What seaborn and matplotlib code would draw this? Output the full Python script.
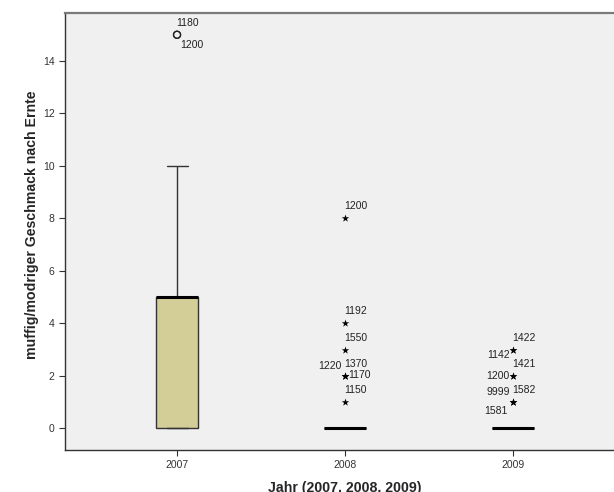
import numpy as np
import pandas as pd
import matplotlib
matplotlib.use("Agg")
import matplotlib.pyplot as plt
import seaborn as sns

# Jahre / Kategorien
years = ["2007", "2008", "2009"]

# Werte ohne Ausreisser (geschaetzt aus dem Boxplot)
body_2007 = [0] * 6 + [5] * 12 + [10]
body_2008 = [0] * 40
body_2009 = [0] * 40

# Ausreisser mit Fallnummern
out_year = ["2007", "2007", "2008", "2008", "2008", "2008", "2008", "2008", "2008",
            "2009", "2009", "2009", "2009", "2009", "2009", "2009"]
out_value = [15, 15, 8, 4, 3, 2, 2, 2, 1, 3, 3, 2, 2, 1, 1, 1]
out_case = ["1180", "1200", "1200", "1192", "1550", "1220", "1370", "1170", "1150",
            "1422", "1142", "1421", "1200", "1582", "9999", "1581"]
# wo das Label am Punkt steht
out_slot = ["ur", "dr", "ur", "ur", "ur", "ul", "ur", "r", "ur",
            "ur", "l_lo", "ur", "l", "ur", "ul", "dl"]

slot_off = {  # (dx px, dy px, ha)
    "ur": (-1, 12, "left"),
    "dr": (3, -10, "left"),
    "r": (3, 1, "left"),
    "l": (-4, 0, "right"),
    "ul": (-3, 10, "right"),
    "l_lo": (-3, -5, "right"),
    "dl": (-5, -9, "right"),
}

ytick_vals = [0, 2, 4, 6, 8, 10, 12, 14]

bodies = {"2007": body_2007, "2008": body_2008, "2009": body_2009}
rows = []
for y in years:
    for v in bodies[y]:
        rows.append((y, v))
for y, v in zip(out_year, out_value):
    rows.append((y, v))
df = pd.DataFrame(rows, columns=["Jahr", "wert"])

sns.set_style("white")
plt.rcParams["font.family"] = ["Liberation Sans", "DejaVu Sans"]

fig = plt.figure(figsize=(6.14, 4.92), dpi=100)
ax = fig.add_axes([65 / 614, 1 - 450 / 492, 560 / 614, 437 / 492])
ax.set_facecolor("#f0f0f0")

sns.boxplot(data=df, x="Jahr", y="wert", order=years, ax=ax, showfliers=False,
            width=0.25, color="#d3ce97", saturation=1, linecolor="#333333",
            linewidth=1.0, medianprops=dict(color="black", linewidth=2.2))

# Ausreisser: Kreis (>1.5 IQR) bzw. Stern (>3 IQR) wie in SPSS
for y, v in zip(out_year, out_value):
    q1, q3 = np.percentile(bodies[y] + [vv for yy, vv in zip(out_year, out_value) if yy == y], [25, 75])
    iqr = q3 - q1
    xp = years.index(y)
    if v > q3 + 3 * iqr:
        ax.scatter([xp], [v], marker="*", s=32, color="black", linewidths=0, zorder=5)
    else:
        ax.scatter([xp], [v], marker="o", s=26, facecolors="none", edgecolors="#222222",
                   linewidths=0.9, zorder=5)

for y, v, c, sl in zip(out_year, out_value, out_case, out_slot):
    dx, dy, ha = slot_off[sl]
    ax.annotate(c, xy=(years.index(y), v), xytext=(dx, dy), textcoords="offset pixels",
                ha=ha, va="center", fontsize=7.5, color="#222222")

ax.set_ylim(-0.83, 15.83)
ax.set_xlim(-0.667, 2.667)
ax.set_yticks(ytick_vals)
ax.tick_params(axis="both", direction="out", length=4, width=0.8, color="#333333",
               labelsize=7.5, labelcolor="#333333", left=True, bottom=True)

for s in ["left", "bottom"]:
    ax.spines[s].set_color("#333333")
    ax.spines[s].set_linewidth(1.0)
ax.spines["top"].set_color("#7a7a7a")
ax.spines["top"].set_linewidth(1.6)
ax.spines["right"].set_visible(False)

ax.set_ylabel("muffig/modriger Geschmack nach Ernte", fontsize=10.2, fontweight="bold")
ax.set_xlabel("Jahr (2007, 2008, 2009)", fontsize=10.2, fontweight="bold")
ax.yaxis.set_label_coords(-0.047, 0.515)
ax.xaxis.set_label_coords(0.5, -0.071)

fig.savefig("out.png", dpi=100)
